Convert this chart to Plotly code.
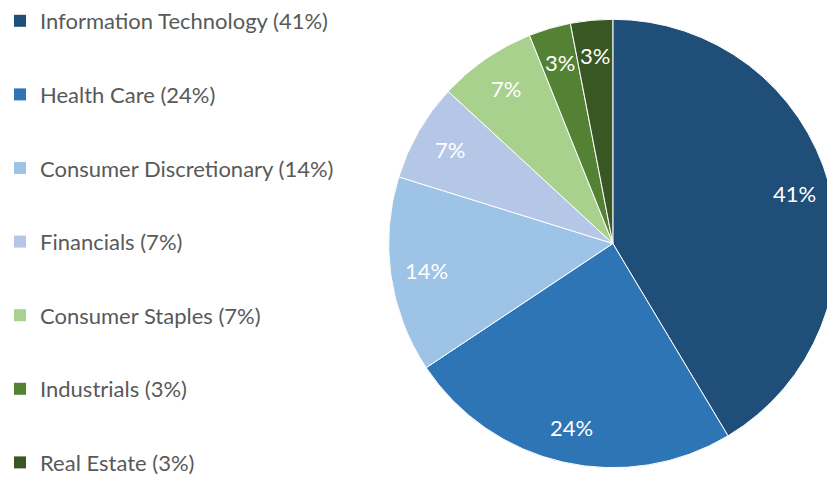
import math
import plotly.graph_objects as go

# Sector allocation data
sectors = ["Information Technology", "Health Care", "Consumer Discretionary",
           "Financials", "Consumer Staples", "Industrials", "Real Estate"]
weights = [41, 24, 14, 7, 7, 3, 3]
colors = ["#1F4E79", "#2E75B6", "#9DC3E6", "#B4C7E7", "#A9D18E", "#548235", "#385723"]

FONT = "Lato"
W, H = 847, 477

# Pie placement (paper fractions)
pie_x = [387 / W, 837 / W]
pie_y = [9 / H, 459 / H]
LABEL_R = 0.84  # label distance from centre, as a share of the radius

fig = go.Figure()

fig.add_trace(go.Pie(
    labels=sectors,
    values=weights,
    sort=False,
    direction="clockwise",
    rotation=0,
    marker=dict(colors=colors, line=dict(color="white", width=1)),
    textinfo="none",
    hoverinfo="label+percent",
    showlegend=False,
    domain=dict(x=pie_x, y=pie_y),
))

# Percentage labels placed along each slice's mid-angle
total = sum(weights)
cx = (pie_x[0] + pie_x[1]) / 2 * W
cy = (pie_y[0] + pie_y[1]) / 2 * H
radius = (pie_x[1] - pie_x[0]) * W / 2
cum = 0
for w in weights:
    mid = (cum + w / 2) / total * 2 * math.pi
    cum += w
    px = cx + LABEL_R * radius * math.sin(mid)
    py = cy + LABEL_R * radius * math.cos(mid)
    fig.add_annotation(
        x=px / W, y=py / H, xref="paper", yref="paper",
        text=f"{w}%", showarrow=False,
        xanchor="center", yanchor="middle",
        font=dict(family=FONT, size=22, color="white"),
    )

# Legend entries, one group each so they can be spaced apart
for i, (name, w, c) in enumerate(zip(sectors, weights, colors)):
    fig.add_trace(go.Scatter(
        x=[None], y=[None], mode="markers",
        marker=dict(symbol="square", size=12, color=c),
        name=f"{name} ({w}%)",
        legendgroup=f"g{i}",
        showlegend=True,
        hoverinfo="skip",
    ))

fig.update_layout(
    width=W, height=H,
    margin=dict(l=0, r=0, t=0, b=0),
    paper_bgcolor="white", plot_bgcolor="white",
    xaxis=dict(visible=False), yaxis=dict(visible=False),
    legend=dict(
        x=-3 / W, y=1 + 1 / H, xanchor="left", yanchor="top",
        font=dict(family=FONT, size=22, color="#595959"),
        tracegroupgap=42,
        itemsizing="constant",
        bgcolor="rgba(0,0,0,0)",
        maxheight=700,
    ),
)

fig.write_html(
    "out.html",
    post_script="document.body.style.margin='0';document.body.style.overflow='hidden';"
                "document.documentElement.style.overflow='hidden';",
)
